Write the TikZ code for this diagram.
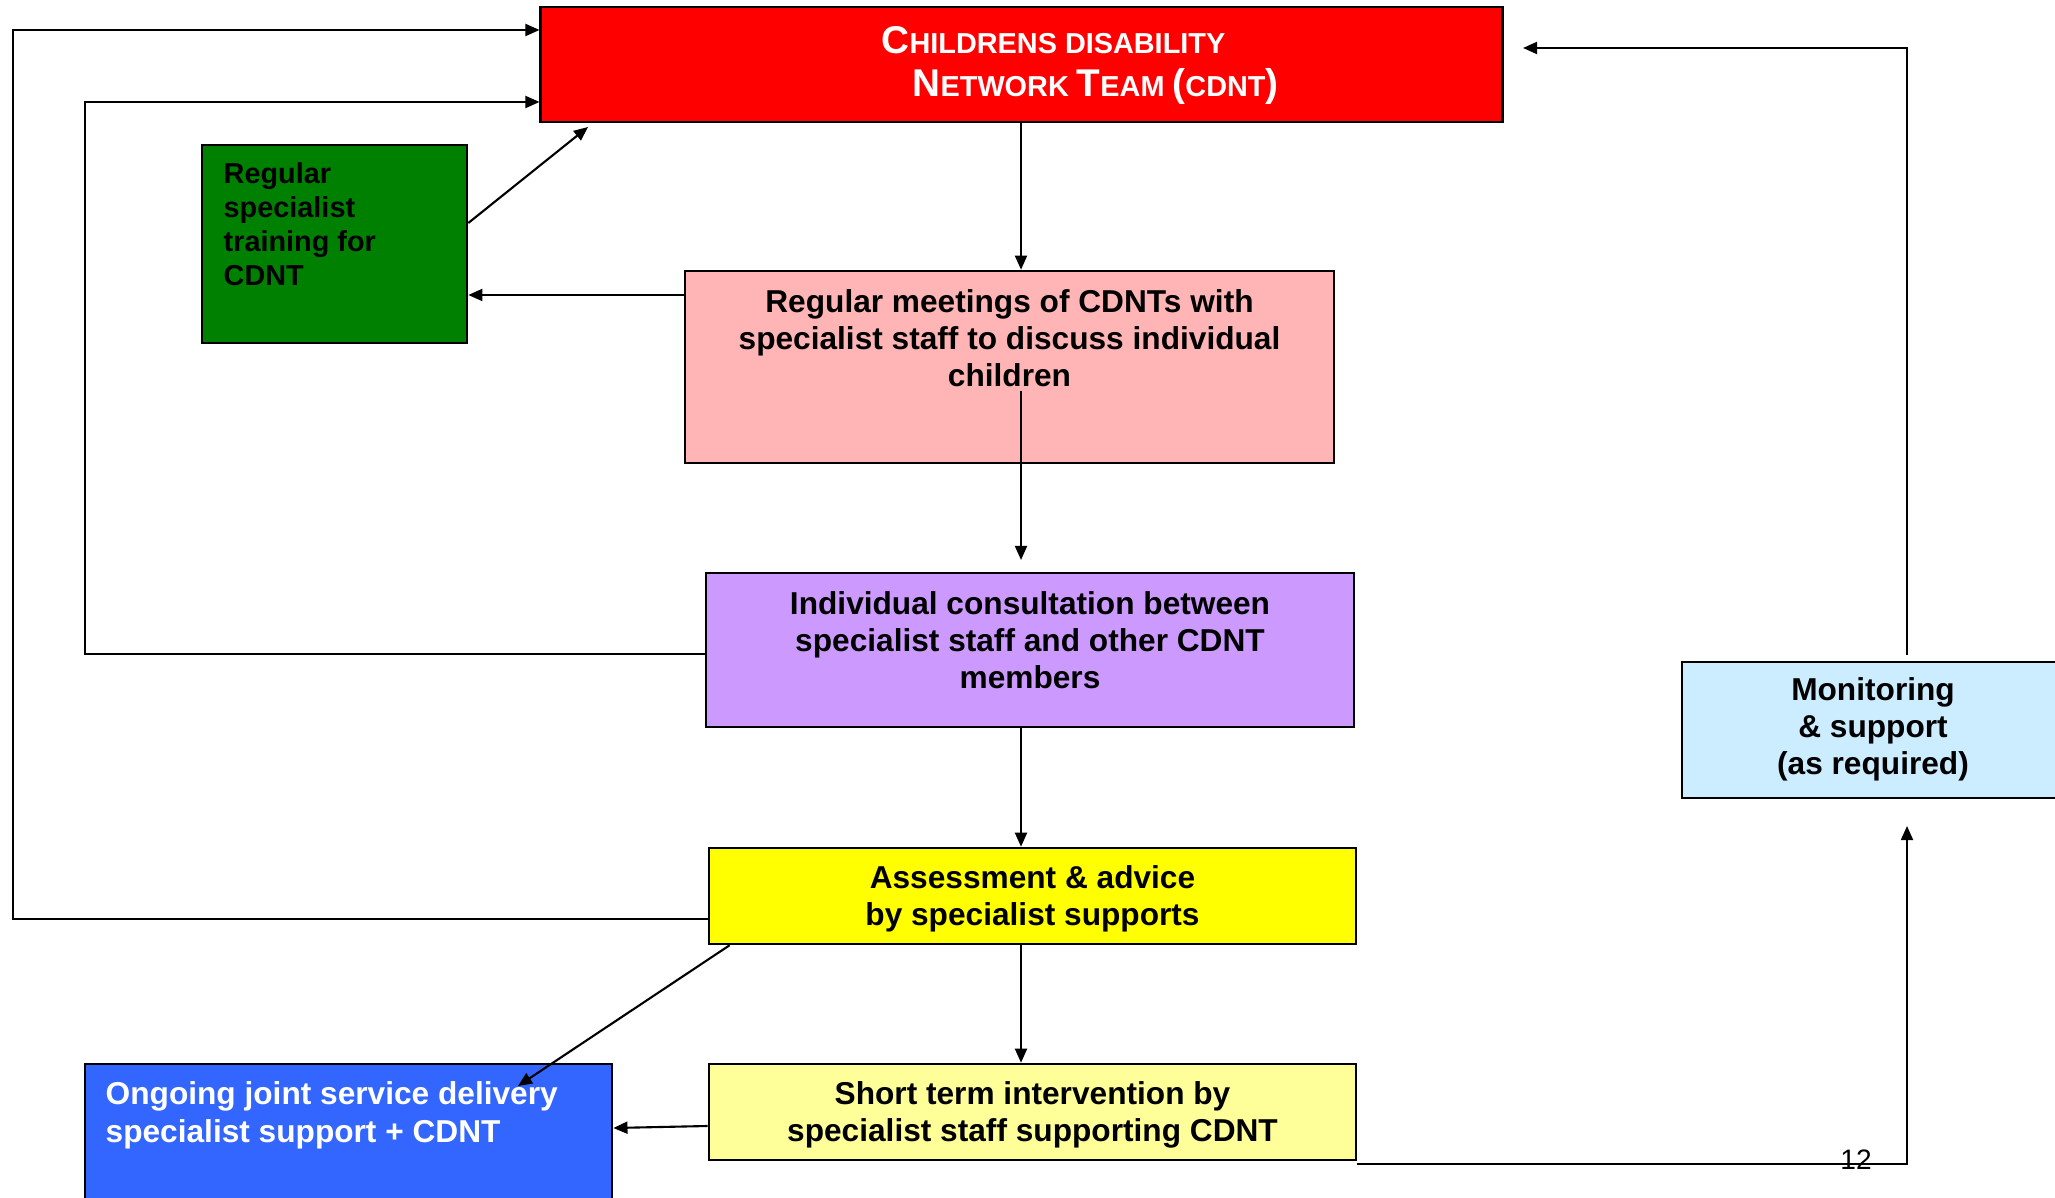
\documentclass[tikz,border=0pt]{standalone}
\usepackage{fontspec}
\setmainfont{Liberation Sans}
\usetikzlibrary{arrows.meta}

% fake small caps for the team title
\newcommand{\capL}[1]{{\fontsize{11}{12.3}\selectfont #1}}
\newcommand{\capS}[1]{{\fontsize{8.2}{12.3}\selectfont #1}}

\definecolor{cdntred}{HTML}{FF0000}
\definecolor{traingreen}{HTML}{008000}
\definecolor{meetpink}{HTML}{FFB5B5}
\definecolor{consultlilac}{HTML}{CC99FF}
\definecolor{assessyellow}{HTML}{FFFF00}
\definecolor{shortyellow}{HTML}{FFFF99}
\definecolor{ongoingblue}{HTML}{3366FF}
\definecolor{monitorblue}{HTML}{CCECFF}

\begin{document}
\begin{tikzpicture}[x=0.01cm, y=-0.01cm,
    >={Triangle[length=4pt,width=3.4pt]},
    box/.style={draw=black, line width=0.7pt, inner sep=0pt},
    txt/.style={font=\fontsize{9}{10.5}\selectfont\bfseries, align=center, inner sep=0pt},
    link/.style={line width=0.6pt, ->},
]
    \useasboundingbox (0,0) rectangle (2055,1198);
    \clip (0,0) rectangle (2055,1198);

    % Boxes
    \node[box, fill=cdntred,      minimum width=9.61cm, minimum height=1.15cm] (cdnt)    at (1021.5,64.5) {};
    \node[box, fill=traingreen,   minimum width=2.65cm, minimum height=1.98cm] (train)   at (334.5,244) {};
    \node[box, fill=meetpink,     minimum width=6.49cm, minimum height=1.92cm] (meet)    at (1009.5,367) {};
    \node[box, fill=consultlilac, minimum width=6.48cm, minimum height=1.54cm] (consult) at (1030,650) {};
    \node[box, fill=assessyellow, minimum width=6.47cm, minimum height=0.96cm] (assess)  at (1032.5,896) {};
    \node[box, fill=shortyellow,  minimum width=6.47cm, minimum height=0.96cm] (short)   at (1032.5,1112) {};
    \node[box, fill=ongoingblue,  minimum width=5.27cm, minimum height=1.51cm] (ongoing) at (348.5,1139.5) {};
    \node[box, fill=monitorblue,  minimum width=3.83cm, minimum height=1.36cm] (monitor) at (1873.5,730) {};

    % Texts
    \node[txt, font=\fontsize{8.2}{12.3}\selectfont\bfseries, text=white, align=left, anchor=west] (cdnt-t) at (881,65.5)
        {\capL{C}\capS{HILDRENS DISABILITY}\\
         \hspace*{0.31cm}\capL{N}\capS{ETWORK} \capL{T}\capS{EAM} \capL{(}\capS{CDNT}\capL{)}};
    \node[txt, font=\fontsize{8.2}{9.7}\selectfont\bfseries, align=left, anchor=west] (train-t) at (223,224)
        {Regular\\specialist\\training for\\CDNT};
    \node[txt] (meet-t) at (1009.5,338)
        {Regular meetings of CDNTs with\\specialist staff to discuss individual\\children};
    \node[txt] (consult-t) at (1030,640)
        {Individual consultation between\\specialist staff and other CDNT\\members};
    \node[txt] (assess-t) at (1032.5,899) {Assessment \& advice\\by specialist supports};
    \node[txt] (short-t) at (1032.5,1115) {Short term intervention by\\specialist staff supporting CDNT};
    \node[txt, font=\fontsize{9}{10.8}\selectfont\bfseries, text=white, align=left, anchor=west] (ongoing-t) at (105,1115)
        {Ongoing joint service delivery\\specialist support + CDNT};
    \node[txt] (monitor-t) at (1873,729) {Monitoring\\\& support\\(as required)};
    \node[inner sep=0pt, font=\fontsize{8}{9}\selectfont] (page) at (1856,1160) {12};

    % Free ends
    \coordinate (tr-end)   at (588,127);
    \coordinate (m-out)    at (1021,391);
    \coordinate (c-in)     at (1021,560);
    \coordinate (loopA)    at (85,102);
    \coordinate (loopB)    at (13,30);
    \coordinate (og-end)   at (518,1086);
    \coordinate (mon-in)   at (1907,826);
    \coordinate (mon-out)  at (1907,655);
    \coordinate (cdnt-in)  at (1523,48);

    % Connectors
    \draw[link] (cdnt.south -| m-out) -- (meet.north -| m-out);
    \draw[link] (meet.west |- 0,295) -- (train.east |- 0,295);
    \draw[link] (train.east |- 0,223) -- (tr-end);
    \draw[link] (m-out) -- (c-in);
    \draw[link] (consult.south -| m-out) -- (assess.north -| m-out);
    \draw[link] (assess.south -| m-out) -- (short.north -| m-out);
    \draw[link] (consult.west |- 0,654) -| (loopA) -- (cdnt.west |- loopA);
    \draw[link] (assess.west |- 0,919) -| (loopB) -- (cdnt.west |- loopB);
    \draw[link] ([xshift=0.22cm]assess.south west) -- (og-end);
    \draw[link] (short.west |- 0,1126) -- (ongoing.east |- 0,1128);
    \draw[link] (short.south east |- 0,1164) -| (mon-in);
    \draw[link] (mon-out) |- (cdnt-in);
\end{tikzpicture}
\end{document}
